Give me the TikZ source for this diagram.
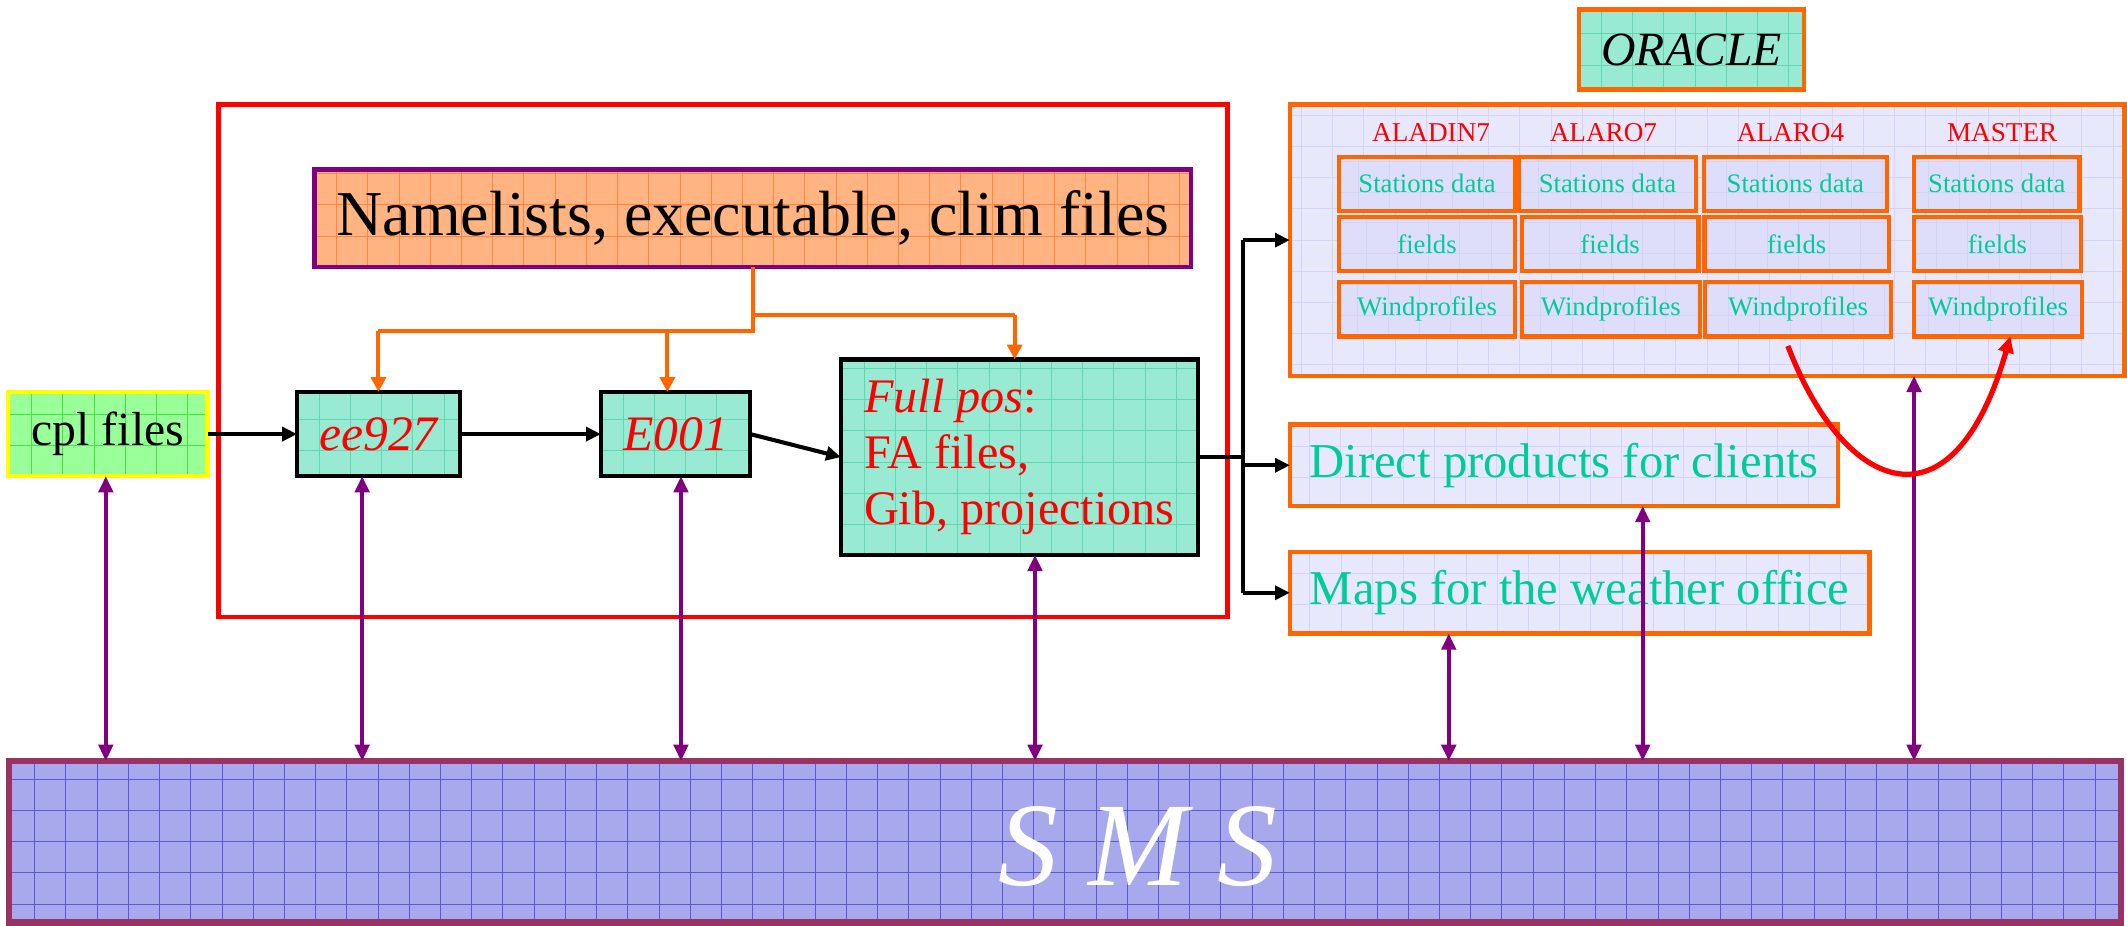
\documentclass[tikz,border=0pt]{standalone}
\usepackage{fontspec}
\setmainfont{Liberation Serif}
\usetikzlibrary{arrows.meta}
\definecolor{mint}{RGB}{152,234,210}
\definecolor{mintgrid}{RGB}{95,215,178}
\definecolor{lgreen}{RGB}{153,255,153}
\definecolor{lgreengrid}{RGB}{70,228,70}
\definecolor{salmon}{RGB}{255,180,130}
\definecolor{salmongrid}{RGB}{255,135,65}
\definecolor{lav}{RGB}{232,232,253}
\definecolor{lavgrid}{RGB}{212,212,248}
\definecolor{cellfill}{RGB}{222,222,250}
\definecolor{smsfill}{RGB}{168,168,236}
\definecolor{smsgrid}{RGB}{90,90,212}
\definecolor{smsborder}{RGB}{153,51,102}
\definecolor{orng}{RGB}{255,102,0}
\definecolor{tealtxt}{RGB}{0,204,153}
\definecolor{purp}{RGB}{128,0,128}
\definecolor{yel}{RGB}{255,255,0}
\begin{document}
\begin{tikzpicture}[x=0.01cm,y=-0.01cm,
  gridded/.style={path picture={\draw[#1,line width=0.2pt]
     (path picture bounding box.south west) grid[step=0.23cm]
     (path picture bounding box.north east);}},
  basebox/.style={inner sep=0pt,outer sep=0pt},
  mintbox/.style={basebox,draw=black,line width=0.9pt,fill=mint,gridded=mintgrid,
     text=red,font=\fontsize{10.4pt}{12pt}\selectfont\itshape},
  lavbox/.style={basebox,draw=orng,line width=0.9pt,fill=lav,gridded=lavgrid,
     text=tealtxt,font=\fontsize{10.2pt}{12pt}\selectfont},
  cell/.style={basebox,draw=orng,line width=0.9pt,fill=cellfill,gridded=lavgrid,
     text=tealtxt,minimum height=0.40cm,font=\fontsize{5.6pt}{7pt}\selectfont},
  colhead/.style={inner sep=0pt,text=red,font=\fontsize{5.7pt}{7pt}\selectfont},
  blkline/.style={draw=black,line width=0.85pt},
  blkarr/.style={blkline,-{Triangle[length=3.1pt,width=2.9pt]}},
  orline/.style={draw=orng,line width=0.85pt},
  orarr/.style={orline,-{Triangle[length=3.1pt,width=3.1pt]}},
  pparr/.style={draw=purp,line width=0.8pt,{Triangle[length=3.4pt,width=3pt]}-{Triangle[length=3.4pt,width=3pt]}},
  redarr/.style={draw=red,line width=1.1pt,-{Triangle[length=3.4pt,width=3.2pt]}}
]
\useasboundingbox (0,0) rectangle (1568,682);

% red frame
\draw[red,line width=0.9pt] (161,77) rectangle (905,455);

% left chain
\node[basebox,draw=yel,line width=0.9pt,fill=lgreen,gridded=lgreengrid,
  minimum width=1.47cm,minimum height=0.62cm,
  font=\fontsize{10pt}{12pt}\selectfont] (cpl) at (79.5,320) {cpl files};
\node[mintbox,minimum width=1.20cm,minimum height=0.62cm] (ee) at (279,320) {ee927};
\node[mintbox,minimum width=1.10cm,minimum height=0.62cm] (eoo) at (498,320) {E001};
\node[mintbox,minimum width=2.63cm,minimum height=1.44cm,align=left,
  font=\fontsize{10.1pt}{11.7pt}\selectfont] (fp) at (751.5,337)
  {\textit{Full pos}:\\FA files,\\Gib, projections};
\node[basebox,draw=purp,line width=0.9pt,fill=salmon,gridded=salmongrid,
  minimum width=6.46cm,minimum height=0.72cm,
  font=\fontsize{13.4pt}{15pt}\selectfont] (nl) at (555,161) {Namelists, executable, clim files};

% ORACLE
\node[basebox,draw=orng,line width=0.9pt,fill=mint,gridded=mintgrid,
  minimum width=1.66cm,minimum height=0.59cm,
  font=\fontsize{10pt}{12pt}\selectfont\itshape] (orl) at (1247,36.5) {ORACLE};
\node[lavbox,minimum width=6.15cm,minimum height=2.00cm] (ob) at (1258.5,177) {};

\node[colhead] (h1) at (1055,98) {ALADIN7};
\node[colhead] (h2) at (1182,98) {ALARO7};
\node[colhead] (h3) at (1320,98) {ALARO4};
\node[colhead] (h4) at (1476,98) {MASTER};

\node[cell,minimum width=1.30cm] (s1) at (1052,135.5) {Stations data};
\node[cell,minimum width=1.30cm] (s2) at (1185,135.5) {Stations data};
\node[cell,minimum width=1.35cm] (s3) at (1323.5,135.5) {Stations data};
\node[cell,minimum width=1.22cm] (s4) at (1472,135.5) {Stations data};
\node[cell,minimum width=1.30cm] (f1) at (1052,180) {fields};
\node[cell,minimum width=1.30cm] (f2) at (1187,180) {fields};
\node[cell,minimum width=1.36cm] (f3) at (1324.5,180) {fields};
\node[cell,minimum width=1.23cm] (f4) at (1472.5,180) {fields};
\node[cell,minimum width=1.30cm] (w1) at (1052,228) {Windprofiles};
\node[cell,minimum width=1.31cm] (w2) at (1187.5,228) {Windprofiles};
\node[cell,minimum width=1.37cm] (w3) at (1325.5,228) {Windprofiles};
\node[cell,minimum width=1.24cm] (w4) at (1473,228) {Windprofiles};

% products
\node[lavbox,minimum width=4.04cm,minimum height=0.60cm] (dp) at (1153,343) {Direct products for clients};
\node[lavbox,minimum width=4.27cm,minimum height=0.60cm] (mp) at (1164.5,437) {Maps for the weather office};

% SMS
\node[basebox,draw=smsborder,line width=1.3pt,fill=smsfill,gridded=smsgrid,
  minimum width=15.56cm,minimum height=1.19cm] (sms) at (785,620.5) {};
\node[anchor=base,inner sep=0pt,text=white,
  font=\fontsize{25pt}{28pt}\selectfont\itshape] (smslbl) at (839,653) {S M S};

% orange connectors
\coordinate (ja) at (555,244);
\coordinate (jb) at (555,232);
\coordinate (xo) at (492,0);
\coordinate (xf) at (748,0);
\draw[orline] (nl.south) -- (ja) -- (ee.north |- ja);
\draw[orline] (jb) -- (xf |- jb);
\draw[orarr] (ee.north |- ja) -- (ee.north);
\draw[orarr] (xo |- ja) -- (xo |- eoo.north);
\draw[orarr] (xf |- jb) -- (xf |- fp.north);

% black connectors
\draw[blkarr] (cpl.east) -- (ee.west);
\draw[blkarr] (ee.east) -- (eoo.west);
\draw[blkarr] (eoo.east) -- (fp.west);
\coordinate (bus) at (916,337);
\draw[blkline] (fp.east) -- (bus);
\draw[blkline] (bus |- ob.west) -- (bus |- mp.west);
\draw[blkarr] (bus |- ob.west) -- (ob.west);
\draw[blkarr] (bus |- dp.west) -- (dp.west);
\draw[blkarr] (bus |- mp.west) -- (mp.west);

% purple double arrows to SMS
\foreach \n/\x in {cpl/78,ee/267,eoo/502,fp/763,mp/1068,dp/1211,ob/1411}{
  \coordinate (px) at (\x,0);
  \draw[pparr] (px |- \n.south) -- (px |- sms.north);
}

% red curve
\draw[redarr] ([xshift=-0.075cm,yshift=-0.07cm]w3.south)
  .. controls (1360,365) and (1440,395) .. ([xshift=0.09cm]w4.south);
\end{tikzpicture}
\end{document}
